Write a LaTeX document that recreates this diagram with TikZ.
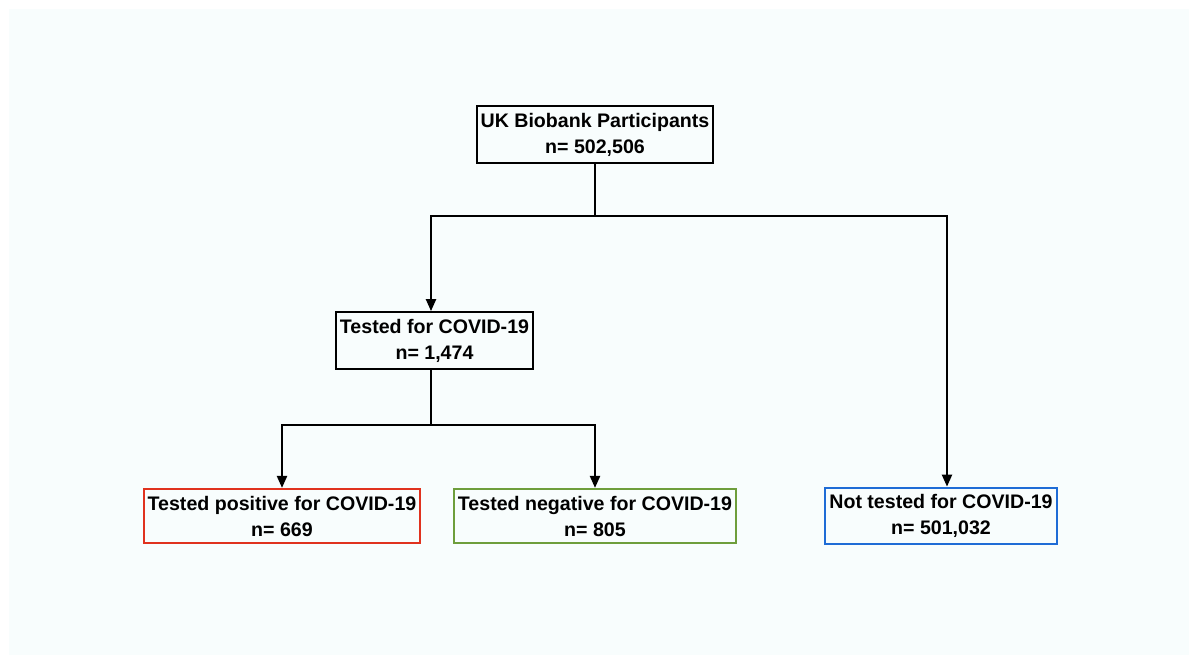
\documentclass[tikz,border=0pt]{standalone}
\usepackage{fontspec}
\setmainfont{Liberation Sans}
\usetikzlibrary{arrows.meta}
\definecolor{panel}{HTML}{F8FDFD}
\definecolor{posred}{HTML}{E0321E}
\definecolor{neggreen}{HTML}{6E9E3C}
\definecolor{notblue}{HTML}{1F6CD6}
\begin{document}
\begin{tikzpicture}[
                        x=0.5pt, y=-0.5pt,
                        line width=1.1pt,
                        >={Triangle[length=6pt,width=5pt]},
                        box/.style={rectangle, draw, align=center, inner xsep=2pt, minimum height=27pt,
                                    font=\fontsize{9.8}{13}\selectfont\bfseries}
                    ]
                    \useasboundingbox (0,0) rectangle (1198,664);
                    \fill[white] (0,0) rectangle (1198,664);
                    \fill[panel] (9,9) rectangle (1189,655);

                    % Blocks
                    \node [box] (all) at (595,134.5) {UK Biobank Participants\\n= 502,506};
                    \node [box] (tested) at (434.5,340.5) {Tested for COVID-19\\n= 1,474};
                    \node [box, draw=posred] (pos) at (282,516) {Tested positive for COVID-19\\n= 669};
                    \node [box, draw=neggreen] (neg) at (595,516) {Tested negative for COVID-19\\n= 805};
                    \node [box, draw=notblue] (nottested) at (941,516) {Not tested for COVID-19\\n= 501,032};
                    \coordinate (split1) at (595,216);
                    \coordinate (split2) at (431,425);

                    % Connections
                    \draw (all) -- (split1);
                    \draw [->] (split1) -| ([xshift=-1.75pt]tested.north);
                    \draw [->] (split1) -| ([xshift=3pt]nottested.north);
                    \draw ([xshift=-1.75pt]tested.south) -- (split2);
                    \draw [->] (split2) -| (pos.north);
                    \draw [->] (split2) -| (neg.north);
                \end{tikzpicture}
\end{document}
